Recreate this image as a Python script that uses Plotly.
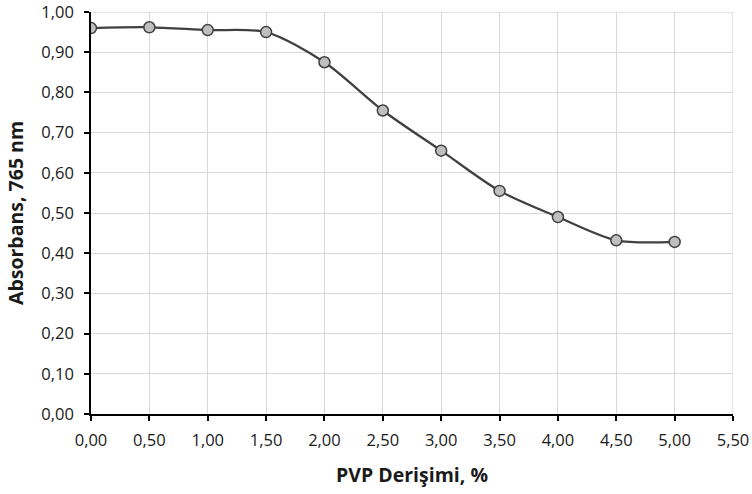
import plotly.graph_objects as go

pvp = [0.0, 0.5, 1.0, 1.5, 2.0, 2.5, 3.0, 3.5, 4.0, 4.5, 5.0]
absorbans = [0.960, 0.962, 0.955, 0.950, 0.875, 0.755, 0.655, 0.555, 0.490, 0.432, 0.428]

x_ticks = [i * 0.5 for i in range(12)]
x_labels = [f"{v:.2f}".replace(".", ",") for v in x_ticks]
y_ticks = [round(i * 0.1, 2) for i in range(11)]
y_labels = [f"{v:.2f}".replace(".", ",") for v in y_ticks]

fig = go.Figure()
fig.add_trace(go.Scatter(
    x=pvp, y=absorbans, mode="lines+markers",
    line=dict(color="#404040", width=2.25, shape="spline", smoothing=0.8),
    marker=dict(size=11, color="#bfbfbf", line=dict(color="#404040", width=1.5)),
    showlegend=False,
))

font_family = "Open Sans, DejaVu Sans, sans-serif"
fig.update_layout(
    width=752, height=494,
    margin=dict(l=91, r=19, t=12, b=80),
    paper_bgcolor="white", plot_bgcolor="white",
    font=dict(family=font_family, size=16.5, color="#1a1a1a"),
    xaxis=dict(
        range=[0, 5.5], tickvals=x_ticks, ticktext=x_labels,
        showgrid=True, gridcolor="#d9d9d9", gridwidth=1.3,
        showline=True, linecolor="black", linewidth=1.5,
        ticks="outside", ticklen=5, tickcolor="black", tickwidth=1.5,
        ticklabelstandoff=5, automargin=False, ticklabeloverflow="allow",
        zeroline=False, fixedrange=True,
        title=dict(text="<b>PVP Derişimi, %</b>", font=dict(size=19.5), standoff=19),
    ),
    yaxis=dict(
        range=[0, 1.0], tickvals=y_ticks, ticktext=y_labels,
        showgrid=True, gridcolor="#d9d9d9", gridwidth=1.3,
        showline=True, linecolor="black", linewidth=1.5,
        ticks="outside", ticklen=5, tickcolor="black", tickwidth=1.5,
        ticklabelstandoff=7, automargin=False, ticklabeloverflow="allow",
        zeroline=False, fixedrange=True,
        title=dict(text="<b>Absorbans, 765 nm</b>", font=dict(size=19.5), standoff=13),
    ),
)
fig.add_shape(type="line", xref="x", yref="y", x0=5.5, x1=5.5, y0=0, y1=1.0,
              line=dict(color="#d9d9d9", width=1.3), layer="below")
fig.add_shape(type="line", xref="x", yref="y", x0=0, x1=5.5, y0=1.0, y1=1.0,
              line=dict(color="#d9d9d9", width=1.3), layer="below")

fig.write_html("out.html")
